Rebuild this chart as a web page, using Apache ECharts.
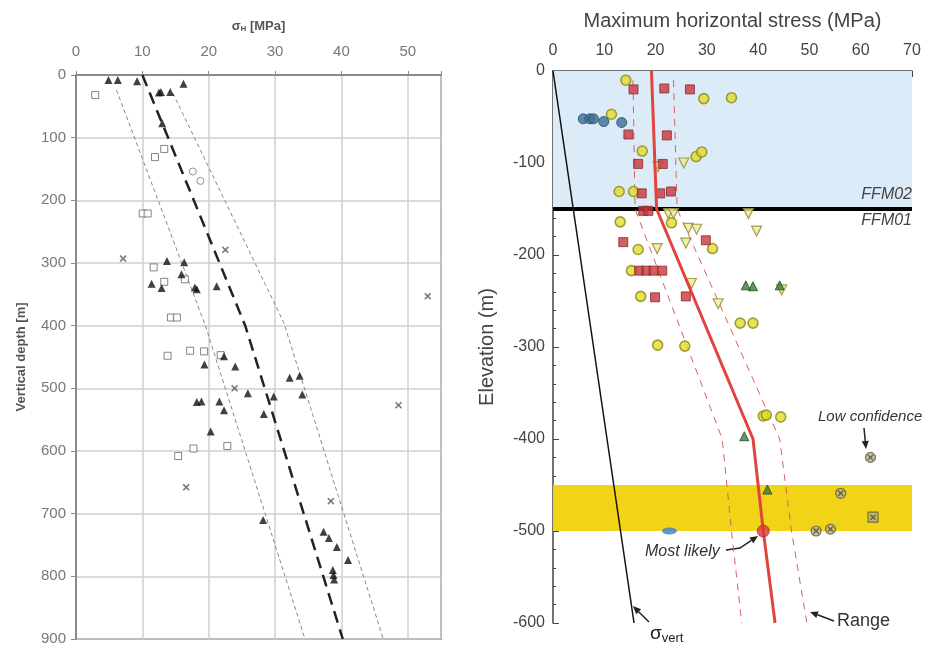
<!DOCTYPE html>
<html><head><meta charset="utf-8">
<script src="https://cdn.jsdelivr.net/npm/echarts@6/dist/echarts.min.js"></script>
<style>html,body{margin:0;padding:0;background:#fff}#c{width:925px;height:647px}</style>
</head><body><div id="c"></div>
<script>
// ---------- LEFT PANEL DATA: [sigmaH MPa, vertical depth m] ----------
const leftTriangles = [[4.9,8],[6.3,8],[9.2,10],[16.2,14],[12.5,28],[12.8,27],[14.2,27],[13,77],
 [13.7,297],[16.3,299],[15.9,318],[11.4,333],[12.9,340],[17.9,339],[18.2,342],[21.2,337],
 [22.3,449],[19.35,462],[24,465],[32.2,483],[33.7,480],[25.9,508],[29.8,513],[34.1,510],
 [18.2,522],[18.9,521],[21.6,521],[22.3,535],[28.3,541],[20.3,569],
 [28.2,710],[37.3,729],[38.1,739],[39.3,753],[41,774],[38.7,790],[38.8,798],[38.9,805]];
const leftSquares = [[2.9,32],[13.3,118],[11.9,131],[10.05,221],[10.8,221],[11.7,307],[13.3,330],[16.4,326],
 [14.3,387],[15.2,387],[13.8,448],[17.2,440],[19.3,441],[21.8,447],[15.4,608],[17.7,596],[22.8,592]];
const leftCircles = [[17.6,154],[18.75,169]];
const leftCrosses = [[7.1,293],[22.5,279],[53,353],[23.9,500],[48.6,527],[16.6,658],[38.4,680]];
const leftMeanLine = [[10,0],[25.5,400],[40.2,900]];
const leftLowLine = [[6.1,24],[19.5,400],[34.5,900]];
const leftHighLine = [[14.6,29],[31.3,395],[46.3,900]];
const leftXTicks = [0,10,20,30,40,50];
const leftYTicks = [0,100,200,300,400,500,600,700,800,900];

// ---------- RIGHT PANEL DATA: [max horizontal stress MPa, elevation m] ----------
const rYellowCircles = [[14.2,-10],[29.4,-30],[34.8,-29],[11.4,-47],[17.4,-87],[27.9,-93],[29,-88],[12.9,-131],
 [15.7,-131],[23.1,-165],[13.1,-164],[16.6,-194],[31.1,-193],[15.3,-217],[17.1,-245],[36.5,-274],[39,-274],
 [20.4,-298],[25.7,-299],[41,-375],[41.6,-374],[44.4,-376]];
const rRedSquares = [[15.7,-20],[21.7,-19],[26.7,-20],[14.7,-69],[22.2,-70],[16.6,-101],[21.4,-101],[17.3,-133],
 [20.9,-133],[23,-131],[17.6,-152],[18.6,-152],[13.7,-186],[29.8,-184],[16.8,-217],[18.2,-217],[19.6,-217],
 [21.3,-217],[25.9,-245],[19.9,-246]];
const rBlueCircles = [[5.9,-52],[7.2,-52],[7.9,-52],[9.9,-55],[13.4,-56]];
const rInvTriangles = [[25.5,-100],[20.5,-104],[22.5,-155],[23.5,-155],[38.1,-155],[26.4,-171],[28,-172],
 [39.7,-174],[20.3,-193],[25.9,-187],[27,-231],[32.2,-253],[44.6,-238]];
const rGreenTriangles = [[37.6,-233],[39,-234],[44.2,-233],[37.3,-397],[41.8,-455]];
const rLowConfCircles = [[61.9,-420],[56.1,-459],[51.3,-500],[54.1,-498]];
const rLowConfSquares = [[62.4,-485]];
const rBlueEllipse = [[22.7,-500]];
const rMostLikely = [[41,-500]];
const rBestLine = [[19.2,0],[20.2,-150],[39,-400],[41,-500],[43.3,-600]];
const rRangeLow = [[15.6,-10],[16,-150],[33,-400],[34.8,-500],[36.8,-600]];
const rRangeHigh = [[23.5,-10],[24.2,-150],[44.2,-400],[46.5,-500],[49.5,-600]];
const rSigmaVert = [[0,0],[15.8,-600]];
const rDomainBoundary = [[0,-150],[70,-150]];
const rFFM02Zone = [-150, 0];
const rDeformationZone = [-500, -450];
const rXTicks = [0,10,20,30,40,50,60,70];
const rYTicks = [-600,-500,-400,-300,-200,-100,0];

const XPATH = 'path://M0,1.6L1.6,0L5,3.4L8.4,0L10,1.6L6.6,5L10,8.4L8.4,10L5,6.6L1.6,10L0,8.4L3.4,5Z';
const FONT = 'Liberation Sans, Arial, sans-serif';

const chart = echarts.init(document.getElementById('c'), null, {renderer:'canvas'});

function arrow(x1,y1,x2,y2,extra){
  const a=Math.atan2(y2-y1,x2-x1), L=8, W=3.5;
  const bx=x2-L*Math.cos(a), by=y2-L*Math.sin(a);
  const px=-Math.sin(a)*W, py=Math.cos(a)*W;
  const pts = (extra||[]).concat([[x1,y1],[bx,by]]);
  return [
    {type:'polyline',shape:{points:pts},style:{stroke:'#222',lineWidth:1.5,fill:null}},
    {type:'polygon',shape:{points:[[x2,y2],[bx+px,by+py],[bx-px,by-py]]},style:{fill:'#222'}}
  ];
}

const option = {
  animation:false,
  backgroundColor:'#fff',
  grid:[
    {left:76, top:75, width:365, height:564, show:true, borderColor:'#8a8a8a', borderWidth:2, backgroundColor:'#fff'},
    {left:553, top:71, width:359, height:552, show:false}
  ],
  xAxis:[
    {gridIndex:0, type:'value', position:'top', min:0, max:55, interval:10,
     name:'σ{sub|H} [MPa]', nameLocation:'middle', nameGap:42,
     nameTextStyle:{fontFamily:FONT, fontSize:13, fontWeight:'bold', color:'#555',
       rich:{sub:{fontSize:8, fontWeight:'bold', color:'#555', verticalAlign:'bottom', padding:[6,0,0,0]}}},
     axisLine:{show:true, lineStyle:{color:'#8a8a8a', width:2}},
     axisTick:{show:true, length:4, lineStyle:{color:'#8a8a8a'}},
     splitLine:{show:true, lineStyle:{color:'#cfcfcf', width:1.5}},
     axisLabel:{margin:16, fontFamily:FONT, fontSize:15, color:'#777',
       formatter:v=> leftXTicks.includes(v)? String(v):''}},
    {gridIndex:1, type:'value', position:'top', min:0, max:70, interval:10,
     name:'Maximum horizontal stress (MPa)', nameLocation:'middle', nameGap:40,
     nameTextStyle:{fontFamily:FONT, fontSize:20, color:'#444'},
     axisLine:{show:true, lineStyle:{color:'#444', width:1.5}},
     axisTick:{show:true, inside:true, length:6, lineStyle:{color:'#444'}},
     minorTick:{show:true, splitNumber:5, length:3, lineStyle:{color:'#444'}},
     splitLine:{show:false},
     axisLabel:{margin:12, fontFamily:FONT, fontSize:16, color:'#444',
       formatter:v=> rXTicks.includes(v)? String(v):''}}
  ],
  yAxis:[
    {gridIndex:0, type:'value', inverse:true, min:0, max:900, interval:100,
     name:'Vertical depth [m]', nameLocation:'middle', nameGap:48, nameRotate:90,
     nameTextStyle:{fontFamily:FONT, fontSize:13, fontWeight:'bold', color:'#555'},
     axisLine:{show:true, lineStyle:{color:'#8a8a8a', width:2}},
     axisTick:{show:true, length:5, lineStyle:{color:'#8a8a8a'}},
     splitLine:{show:true, lineStyle:{color:'#cfcfcf', width:1.5}},
     axisLabel:{margin:10, fontFamily:FONT, fontSize:15, color:'#777',
       formatter:v=> leftYTicks.includes(v)? String(v):''}},
    {gridIndex:1, type:'value', min:-600, max:0, interval:100,
     name:'Elevation (m)', nameLocation:'middle', nameGap:56, nameRotate:90,
     nameTextStyle:{fontFamily:FONT, fontSize:20, color:'#444'},
     axisLine:{show:true, lineStyle:{color:'#444', width:1.5}},
     axisTick:{show:true, inside:true, length:6, lineStyle:{color:'#444'}},
     minorTick:{show:true, splitNumber:5, length:3, lineStyle:{color:'#444'}},
     splitLine:{show:false},
     axisLabel:{margin:8, fontFamily:FONT, fontSize:16, color:'#444',
       formatter:v=> rYTicks.includes(v)? String(v):''}}
  ],
  series:[
    // ---- left panel ----
    {type:'line', xAxisIndex:0, yAxisIndex:0, data:leftLowLine, symbol:'none', z:2,
     lineStyle:{color:'#888', width:1, type:[4,3]}},
    {type:'line', xAxisIndex:0, yAxisIndex:0, data:leftHighLine, symbol:'none', z:2,
     lineStyle:{color:'#888', width:1, type:[4,3]}},
    {type:'line', xAxisIndex:0, yAxisIndex:0, data:leftMeanLine, symbol:'none', z:2,
     lineStyle:{color:'#222', width:2.5, type:[12,7]}},
    {type:'scatter', xAxisIndex:0, yAxisIndex:0, data:leftSquares, symbol:'rect', symbolSize:7, z:3,
     itemStyle:{color:'#fff', borderColor:'#666', borderWidth:1}},
    {type:'scatter', xAxisIndex:0, yAxisIndex:0, data:leftCircles, symbol:'circle', symbolSize:7, z:3,
     itemStyle:{color:'#fff', borderColor:'#777', borderWidth:1}},
    {type:'scatter', xAxisIndex:0, yAxisIndex:0, data:leftCrosses, symbol:XPATH, symbolSize:7, z:3,
     itemStyle:{color:'#555'}},
    {type:'scatter', xAxisIndex:0, yAxisIndex:0, data:leftTriangles, symbol:'triangle', symbolSize:8, z:4,
     itemStyle:{color:'#111'}},
    // ---- right panel: zones ----
    {type:'line', xAxisIndex:1, yAxisIndex:1, data:[], z:1,
     markArea:{silent:true, data:[
       [{coord:[0, rFFM02Zone[1]], itemStyle:{color:'#dcebf8'}},{coord:[70, rFFM02Zone[0]]}],
       [{coord:[0, rDeformationZone[1]], itemStyle:{color:'#f1d417'}},{coord:[70, rDeformationZone[0]]}]
     ]}},
    {type:'line', xAxisIndex:1, yAxisIndex:1, data:rDomainBoundary, symbol:'none', z:3,
     lineStyle:{color:'#000', width:4}},
    {type:'line', xAxisIndex:1, yAxisIndex:1, data:rSigmaVert, symbol:'none', z:3,
     lineStyle:{color:'#111', width:1.5}},
    {type:'line', xAxisIndex:1, yAxisIndex:1, data:rRangeLow, symbol:'none', z:3,
     lineStyle:{color:'#d86060', width:1, type:[7,6]}},
    {type:'line', xAxisIndex:1, yAxisIndex:1, data:rRangeHigh, symbol:'none', z:3,
     lineStyle:{color:'#d86060', width:1, type:[7,6]}},
    {type:'scatter', xAxisIndex:1, yAxisIndex:1, data:rInvTriangles, symbol:'triangle', symbolRotate:180, symbolSize:10, z:4,
     itemStyle:{color:'#ecea9c', borderColor:'#8d8a2a', borderWidth:1.2}},
    {type:'scatter', xAxisIndex:1, yAxisIndex:1, data:rYellowCircles, symbol:'circle', symbolSize:10, z:4,
     itemStyle:{color:'#e2dd2c', borderColor:'#8a8818', borderWidth:1.6}},
    {type:'scatter', xAxisIndex:1, yAxisIndex:1, data:rRedSquares, symbol:'rect', symbolSize:9, z:5,
     itemStyle:{color:'#c8363c', borderColor:'#8a2a2a', borderWidth:1}},
    {type:'scatter', xAxisIndex:1, yAxisIndex:1, data:rBlueCircles, symbol:'circle', symbolSize:10, z:5,
     itemStyle:{color:'#3f6f95', borderColor:'#24475f', borderWidth:1}},
    {type:'scatter', xAxisIndex:1, yAxisIndex:1, data:rGreenTriangles, symbol:'triangle', symbolSize:9, z:5,
     itemStyle:{color:'#3b7a3b', borderColor:'#1f4a1f', borderWidth:1}},
    {type:'scatter', xAxisIndex:1, yAxisIndex:1, data:rLowConfCircles, symbol:'circle', symbolSize:10, z:5,
     itemStyle:{color:'#b9b38a', borderColor:'#5a5a40', borderWidth:1.2}},
    {type:'scatter', xAxisIndex:1, yAxisIndex:1, data:rLowConfSquares, symbol:'rect', symbolSize:10, z:5,
     itemStyle:{color:'#b9b070', borderColor:'#5a5a40', borderWidth:1.2}},
    {type:'scatter', xAxisIndex:1, yAxisIndex:1, data:rLowConfCircles.concat(rLowConfSquares), symbol:XPATH, symbolSize:6, z:6,
     itemStyle:{color:'#4a4a3a'}},
    {type:'line', xAxisIndex:1, yAxisIndex:1, data:rBestLine, symbol:'none', z:6,
     lineStyle:{color:'#e0443c', width:3}},
    {type:'scatter', xAxisIndex:1, yAxisIndex:1, data:rBlueEllipse, symbol:'circle', symbolSize:[15,7], z:7,
     itemStyle:{color:'#3a7fd0'}},
    {type:'scatter', xAxisIndex:1, yAxisIndex:1, data:rMostLikely, symbol:'circle', symbolSize:12, z:7,
     itemStyle:{color:'#d8383c', borderColor:'#b02a2a', borderWidth:1}}
  ],
  graphic:[
    {type:'text', x:912, y:195, z:10, style:{text:'FFM02', fontFamily:FONT, fontSize:16, fontStyle:'italic', fill:'#444', align:'right', verticalAlign:'middle'}},
    {type:'text', x:912, y:221, z:10, style:{text:'FFM01', fontFamily:FONT, fontSize:16, fontStyle:'italic', fill:'#444', align:'right', verticalAlign:'middle'}},
    {type:'text', x:818, y:417, z:10, style:{text:'Low confidence', fontFamily:FONT, fontSize:15, fontStyle:'italic', fill:'#333', align:'left', verticalAlign:'middle'}},
    {type:'text', x:645, y:552, z:10, style:{text:'Most likely', fontFamily:FONT, fontSize:16, fontStyle:'italic', fill:'#333', align:'left', verticalAlign:'middle'}},
    {type:'text', x:837, y:621, z:10, style:{text:'Range', fontFamily:FONT, fontSize:18, fill:'#333', align:'left', verticalAlign:'middle'}},
    {type:'text', x:650, y:634, z:10, style:{text:'σ{s|vert}', fontFamily:FONT, fontSize:19, fill:'#222', align:'left', verticalAlign:'middle',
      rich:{s:{fontSize:13, fill:'#222', verticalAlign:'bottom', padding:[8,0,0,0]}}}},
    {type:'group', z:10, children:[]
      .concat(arrow(864,428,866,449))
      .concat(arrow(740,548,758,536,[[726,550]]))
      .concat(arrow(649,622,633,606))
      .concat(arrow(834,621,810,612))}
  ]
};
chart.setOption(option);
</script></body></html>
